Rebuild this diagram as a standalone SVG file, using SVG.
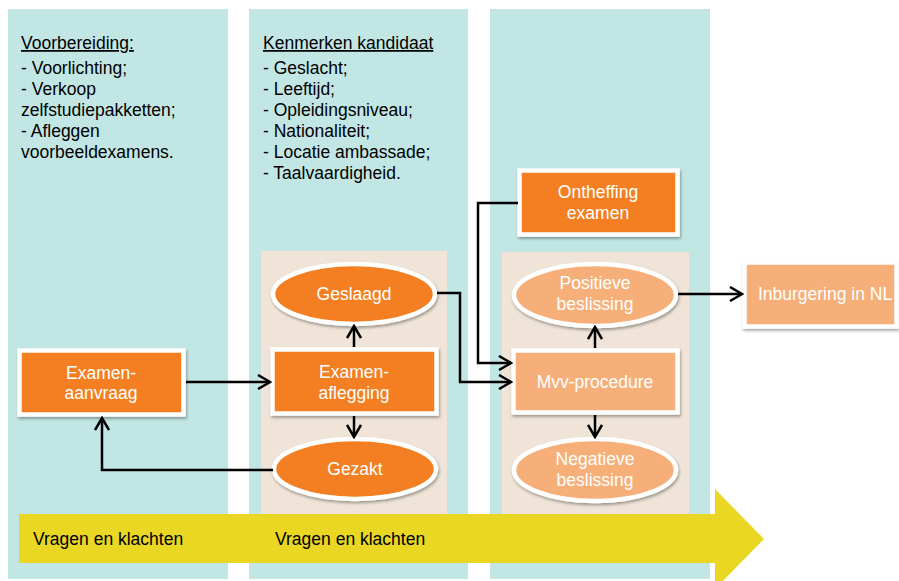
<svg xmlns="http://www.w3.org/2000/svg" width="899" height="581" viewBox="0 0 899 581">
<defs>
<filter id="sh" x="-10%" y="-10%" width="125%" height="130%">
<feDropShadow dx="1" dy="2" stdDeviation="1.5" flood-color="#000" flood-opacity="0.35"/>
</filter>
<marker id="ah" markerUnits="userSpaceOnUse" markerWidth="16" markerHeight="16" viewBox="0 0 16 16" refX="14" refY="8" orient="auto">
<path d="M2,1 L14,8 L2,15" fill="none" stroke="#000" stroke-width="2.5" stroke-linejoin="miter"/>
</marker>
</defs>
<style>
.col{fill:#c2e6e4}
.pan{fill:#efe4d7}
.dk{fill:#f47f20;stroke:#fff;stroke-width:4.5;filter:url(#sh)}
.lt{fill:#f6af79;stroke:#fff;stroke-width:4.5;filter:url(#sh)}
.nt{font-family:"Liberation Sans",Arial,sans-serif;font-size:17.5px;fill:#fff;text-anchor:middle}
.bt{font-family:"Liberation Sans",Arial,sans-serif;font-size:17.5px;fill:#000}
.u{text-decoration:underline}
.cn{fill:none;stroke:#000;stroke-width:2.5;marker-end:url(#ah)}
</style>
<rect width="899" height="581" fill="#fff"/>
<g id="columns">
<rect class="col" x="8" y="9" width="220" height="570"/>
<rect class="col" x="249" y="9" width="219" height="570"/>
<rect class="col" x="490" y="9" width="220" height="570"/>
<rect class="pan" x="261" y="251" width="186" height="263"/>
<rect class="pan" x="502" y="252" width="187" height="262"/>
</g>
<g id="timeline">
<polygon points="19,514 715,514 715,489 764,539 715,589 715,563 19,563" fill="#e9d724"/>
<text class="bt" x="33" y="545">Vragen en klachten</text>
<text class="bt" x="275" y="545">Vragen en klachten</text>
</g>
<g id="voorbereiding">
<text class="bt u" x="21" y="49">Voorbereiding:</text>
<text class="bt" x="21" y="74">- Voorlichting;</text>
<text class="bt" x="21" y="95">- Verkoop</text>
<text class="bt" x="21" y="116">zelfstudiepakketten;</text>
<text class="bt" x="21" y="137">- Afleggen</text>
<text class="bt" x="21" y="158">voorbeeldexamens.</text>
</g>
<g id="kenmerken">
<text class="bt u" x="263" y="49">Kenmerken kandidaat</text>
<text class="bt" x="263" y="74">- Geslacht;</text>
<text class="bt" x="263" y="95">- Leeftijd;</text>
<text class="bt" x="263" y="116">- Opleidingsniveau;</text>
<text class="bt" x="263" y="137">- Nationaliteit;</text>
<text class="bt" x="263" y="158">- Locatie ambassade;</text>
<text class="bt" x="263" y="179">- Taalvaardigheid.</text>
</g>
<g id="examen-aanvraag">
<rect class="dk" x="19.5" y="350.5" width="164" height="64"/>
<text class="nt" x="101" y="379">Examen-</text>
<text class="nt" x="101" y="399">aanvraag</text>
</g>
<g id="examen-aflegging">
<rect class="dk" x="272.5" y="349.5" width="164" height="64"/>
<text class="nt" x="354" y="378">Examen-</text>
<text class="nt" x="354" y="399">aflegging</text>
</g>
<g id="geslaagd">
<ellipse class="dk" cx="354" cy="294" rx="81" ry="30"/>
<text class="nt" x="354" y="300">Geslaagd</text>
</g>
<g id="gezakt">
<ellipse class="dk" cx="355" cy="469" rx="81" ry="30"/>
<text class="nt" x="355" y="475">Gezakt</text>
</g>
<g id="ontheffing-examen">
<rect class="dk" x="519.5" y="170.5" width="158" height="64"/>
<text class="nt" x="598" y="198">Ontheffing</text>
<text class="nt" x="598" y="219">examen</text>
</g>
<g id="mvv-procedure">
<rect class="lt" x="513.5" y="350.5" width="164" height="62"/>
<text class="nt" x="595" y="388">Mvv-procedure</text>
</g>
<g id="positieve-beslissing">
<ellipse class="lt" cx="595" cy="295" rx="81" ry="31"/>
<text class="nt" x="595" y="289">Positieve</text>
<text class="nt" x="595" y="310">beslissing</text>
</g>
<g id="negatieve-beslissing">
<ellipse class="lt" cx="595" cy="470" rx="81" ry="31"/>
<text class="nt" x="595" y="465">Negatieve</text>
<text class="nt" x="595" y="486">beslissing</text>
</g>
<g id="inburgering">
<rect class="lt" x="744.5" y="262.5" width="152" height="64"/>
<text class="nt" x="825" y="300">Inburgering in NL</text>
</g>
<g id="connectors">
<path class="cn" d="M186,382 L270,382"/>
<path class="cn" d="M273,470 L102,470 L102,418"/>
<path class="cn" d="M354,347 L354,326"/>
<path class="cn" d="M354,416 L354,437"/>
<path class="cn" d="M437,293 L460,293 L460,382 L511,382"/>
<path class="cn" d="M518,203 L478,203 L478,363 L511,363"/>
<path class="cn" d="M595,348 L595,327"/>
<path class="cn" d="M595,415 L595,437"/>
<path class="cn" d="M678,294 L742,294"/>
</g>
</svg>
